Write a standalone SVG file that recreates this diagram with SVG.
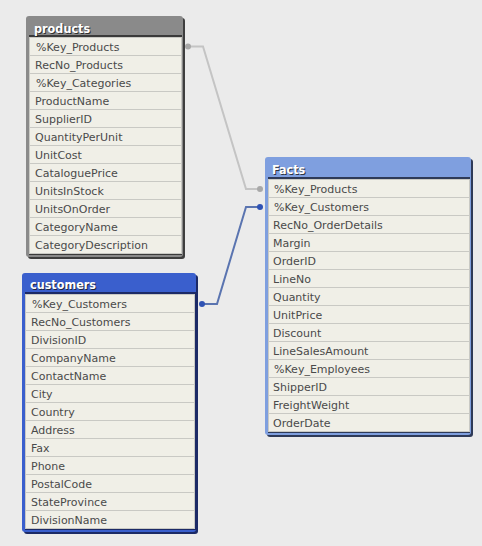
<svg xmlns="http://www.w3.org/2000/svg" width="482" height="546" viewBox="0 0 482 546">
<style>
.row{fill:#f0efe7;stroke:#c9c9c4;stroke-width:1}
.t{font-family:"DejaVu Sans",Verdana,sans-serif;font-size:11px;fill:#4a4a4a}
.h{font-family:"DejaVu Sans Condensed","DejaVu Sans",sans-serif;font-size:12.5px;font-weight:bold;fill:#ffffff}
.hs{font-family:"DejaVu Sans Condensed","DejaVu Sans",sans-serif;font-size:12.5px;font-weight:bold;fill:#1a1a1a;opacity:0.8}
.cg{fill:none;stroke:#c4c4c4;stroke-width:2}
.cb{fill:none;stroke:#5a74b0;stroke-width:2}
</style>
<rect width="482" height="546" fill="#ebebeb"/>
<g id="connectors">
<polyline class="cg" points="188,46.5 203,46.5 246,189 260,189"/>
<polyline class="cb" points="202,304 217,304 246,207 260,207"/>
<circle cx="188" cy="46.5" r="3" fill="#a8a8a8"/>
<circle cx="260" cy="189" r="3" fill="#a8a8a8"/>
<circle cx="260" cy="207" r="3" fill="#2f52b4"/>
<circle cx="202" cy="304" r="3" fill="#2f52b4"/>
</g>
<g id="products">
<rect x="28" y="18" width="157" height="241" rx="3" fill="#3e3e3e"/>
<rect x="26" y="16" width="157" height="241" rx="3" fill="#8a8a8a"/>
<rect x="29" y="35" width="153" height="220" fill="#3a3a3a"/>
<rect class="row" x="29.5" y="37.5" width="152" height="18"/>
<rect class="row" x="29.5" y="55.5" width="152" height="18"/>
<rect class="row" x="29.5" y="73.5" width="152" height="18"/>
<rect class="row" x="29.5" y="91.5" width="152" height="18"/>
<rect class="row" x="29.5" y="109.5" width="152" height="18"/>
<rect class="row" x="29.5" y="127.5" width="152" height="18"/>
<rect class="row" x="29.5" y="145.5" width="152" height="18"/>
<rect class="row" x="29.5" y="163.5" width="152" height="18"/>
<rect class="row" x="29.5" y="181.5" width="152" height="18"/>
<rect class="row" x="29.5" y="199.5" width="152" height="18"/>
<rect class="row" x="29.5" y="217.5" width="152" height="18"/>
<rect class="row" x="29.5" y="235.5" width="152" height="18"/>
<text class="hs" x="35" y="34">products</text>
<text class="h" x="34" y="33">products</text>
<text class="t" x="36" y="51">%Key_Products</text>
<text class="t" x="35" y="69">RecNo_Products</text>
<text class="t" x="36" y="87">%Key_Categories</text>
<text class="t" x="35" y="105">ProductName</text>
<text class="t" x="35" y="123">SupplierID</text>
<text class="t" x="35" y="141">QuantityPerUnit</text>
<text class="t" x="35" y="159">UnitCost</text>
<text class="t" x="35" y="177">CataloguePrice</text>
<text class="t" x="35" y="195">UnitsInStock</text>
<text class="t" x="35" y="213">UnitsOnOrder</text>
<text class="t" x="35" y="231">CategoryName</text>
<text class="t" x="35" y="249">CategoryDescription</text>
</g>
<g id="facts">
<rect x="267" y="159" width="206" height="278" rx="3" fill="#2e3a58"/>
<rect x="265" y="157" width="206" height="278" rx="3" fill="#7f9fdf"/>
<rect x="268" y="177" width="202" height="256" fill="#2e3a58"/>
<rect class="row" x="268.5" y="179.5" width="201" height="18"/>
<rect class="row" x="268.5" y="197.5" width="201" height="18"/>
<rect class="row" x="268.5" y="215.5" width="201" height="18"/>
<rect class="row" x="268.5" y="233.5" width="201" height="18"/>
<rect class="row" x="268.5" y="251.5" width="201" height="18"/>
<rect class="row" x="268.5" y="269.5" width="201" height="18"/>
<rect class="row" x="268.5" y="287.5" width="201" height="18"/>
<rect class="row" x="268.5" y="305.5" width="201" height="18"/>
<rect class="row" x="268.5" y="323.5" width="201" height="18"/>
<rect class="row" x="268.5" y="341.5" width="201" height="18"/>
<rect class="row" x="268.5" y="359.5" width="201" height="18"/>
<rect class="row" x="268.5" y="377.5" width="201" height="18"/>
<rect class="row" x="268.5" y="395.5" width="201" height="18"/>
<rect class="row" x="268.5" y="413.5" width="201" height="18"/>
<text class="hs" x="273" y="175">Facts</text>
<text class="h" x="272" y="174">Facts</text>
<text class="t" x="274" y="193">%Key_Products</text>
<text class="t" x="274" y="211">%Key_Customers</text>
<text class="t" x="273" y="229">RecNo_OrderDetails</text>
<text class="t" x="273" y="247">Margin</text>
<text class="t" x="273" y="265">OrderID</text>
<text class="t" x="273" y="283">LineNo</text>
<text class="t" x="273" y="301">Quantity</text>
<text class="t" x="273" y="319">UnitPrice</text>
<text class="t" x="273" y="337">Discount</text>
<text class="t" x="273" y="355">LineSalesAmount</text>
<text class="t" x="274" y="373">%Key_Employees</text>
<text class="t" x="273" y="391">ShipperID</text>
<text class="t" x="273" y="409">FreightWeight</text>
<text class="t" x="273" y="427">OrderDate</text>
</g>
<g id="customers">
<rect x="24" y="275" width="174" height="259" rx="3" fill="#1c2a66"/>
<rect x="22" y="273" width="174" height="259" rx="3" fill="#3a5fcd"/>
<rect x="25" y="292" width="171" height="238" fill="#1c2a66"/>
<rect class="row" x="25.5" y="294.5" width="169" height="18"/>
<rect class="row" x="25.5" y="312.5" width="169" height="18"/>
<rect class="row" x="25.5" y="330.5" width="169" height="18"/>
<rect class="row" x="25.5" y="348.5" width="169" height="18"/>
<rect class="row" x="25.5" y="366.5" width="169" height="18"/>
<rect class="row" x="25.5" y="384.5" width="169" height="18"/>
<rect class="row" x="25.5" y="402.5" width="169" height="18"/>
<rect class="row" x="25.5" y="420.5" width="169" height="18"/>
<rect class="row" x="25.5" y="438.5" width="169" height="18"/>
<rect class="row" x="25.5" y="456.5" width="169" height="18"/>
<rect class="row" x="25.5" y="474.5" width="169" height="18"/>
<rect class="row" x="25.5" y="492.5" width="169" height="18"/>
<rect class="row" x="25.5" y="510.5" width="169" height="18"/>
<text class="hs" x="31" y="290">customers</text>
<text class="h" x="30" y="289">customers</text>
<text class="t" x="32" y="308">%Key_Customers</text>
<text class="t" x="31" y="326">RecNo_Customers</text>
<text class="t" x="31" y="344">DivisionID</text>
<text class="t" x="31" y="362">CompanyName</text>
<text class="t" x="31" y="380">ContactName</text>
<text class="t" x="31" y="398">City</text>
<text class="t" x="31" y="416">Country</text>
<text class="t" x="31" y="434">Address</text>
<text class="t" x="31" y="452">Fax</text>
<text class="t" x="31" y="470">Phone</text>
<text class="t" x="31" y="488">PostalCode</text>
<text class="t" x="31" y="506">StateProvince</text>
<text class="t" x="31" y="524">DivisionName</text>
</g>
</svg>
